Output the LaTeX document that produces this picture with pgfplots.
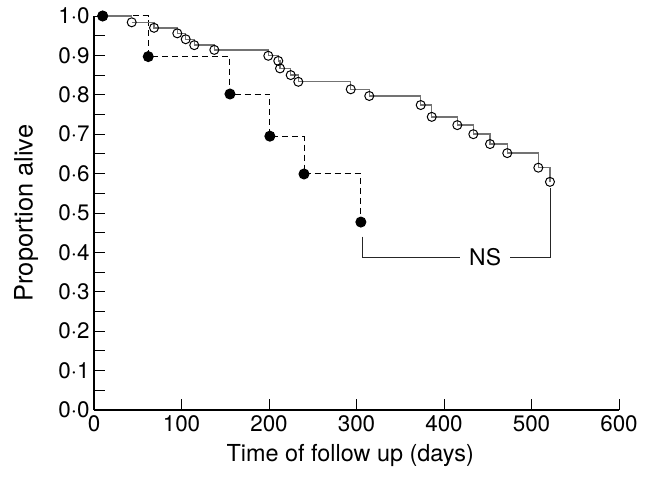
\documentclass[border=0pt]{standalone}
\usepackage{fontspec}
\setmainfont{TeX Gyre Heros}
\usepackage{pgfplots}
\pgfplotsset{compat=1.18}
\definecolor{kmgray}{gray}{0.45}
\begin{document}
\begin{tikzpicture}
\useasboundingbox (-94bp,-67bp) rectangle (564bp,410bp);
\begin{axis}[
  at={(0,0)}, anchor=south west,
  scale only axis, width=525bp, height=394bp,
  xmin=0, xmax=600, ymin=0, ymax=1,
  axis lines=left,
  axis line style={-, line width=1.8bp, black},
  tick align=inside,
  major tick length=11bp, minor tick length=11bp,
  tick style={line width=0.9bp, black},
  xtick={0,100,200,300,400,500,600},
  ytick={0,0.1,0.2,0.3,0.4,0.5,0.6,0.7,0.8,0.9,1},
  yticklabels={0·0,0·1,0·2,0·3,0·4,0·5,0·6,0·7,0·8,0·9,1·0},
  minor ytick={0.05,0.15,0.25,0.35,0.45,0.55,0.65,0.75,0.85,0.95},
  /pgf/number format/assume math mode=true,
  ticklabel style={font=\fontsize{22.5}{26}\selectfont},
  xticklabel style={yshift=-2bp},
  yticklabel style={xshift=-1bp},
  xlabel={Time of follow up (days)},
  ylabel={Proportion alive},
  xlabel style={font=\fontsize{23.5}{27}\selectfont, at={(axis description cs:0.488,-0.116)}, anchor=center},
  ylabel style={font=\fontsize{25.5}{29}\selectfont, at={(axis description cs:-0.1295,0.5)}, anchor=center},
  clip=false,
]
% deaths group (filled circles, dashed step line)
\addplot[const plot mark left, black, line width=1bp,
  dash pattern=on 6bp off 4bp,
  mark=*, mark size=5bp, mark options={solid, fill=black}]
  coordinates {
  (9.9,1.000) (62.0,0.897) (155.4,0.802) (201.0,0.695) (240.0,0.599) (305.0,0.477)
  };
% censored group (open circles, solid grey step line)
\addplot[const plot mark left, color=kmgray, line width=1.4bp,
  mark=o, mark size=4.5bp,
  mark options={draw=black, line width=1bp}]
  coordinates {
  (43.1,0.984) (68.6,0.970) (95.2,0.956) (104.8,0.941) (114.6,0.926)
  (137.5,0.914) (199.2,0.899) (210.6,0.886) (212.6,0.867) (224.8,0.850)
  (233.5,0.833) (293.4,0.814) (314.6,0.797) (373.4,0.774) (386.0,0.744)
  (415.2,0.723) (433.5,0.700) (452.6,0.675) (472.3,0.652) (507.8,0.615)
  (521.1,0.579)
  };
\addplot[color=kmgray, line width=1.4bp] coordinates {(9.9,1.000) (43.1,1.000)};
\draw[line width=0.9bp, black!85] (axis cs:306.3,0.440) |- (axis cs:522,0.388) -- (axis cs:522,0.563);
\node[fill=white, inner xsep=9bp, inner ysep=2bp, font=\fontsize{23}{27}\selectfont] at (axis cs:447,0.388) {NS};
\addplot[only marks, mark=*, mark size=5bp, black] coordinates {(9.9,1.000)};
\end{axis}
\end{tikzpicture}
\end{document}
